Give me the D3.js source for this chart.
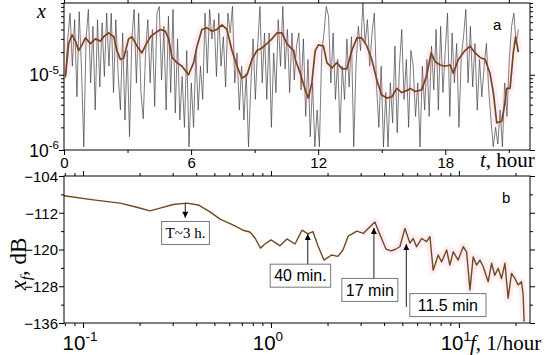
<!DOCTYPE html>
<html>
<head>
<meta charset="utf-8">
<script src="https://cdn.jsdelivr.net/npm/d3@7"></script>
<style>
body { margin: 0; background: #fff; }
svg { display: block; }
</style>
</head>
<body>
<div id="chart"></div>
<script>
// ---- panel a: x(t), raw samples (units of 1e-6), regular step in hours
const rawStart = 0.07;
const rawStep = 0.108;
const rawX = [
  9.0,30,66,13,54,5.1,69,12,1.1,30,74,7.8,44,3.4,54,6.9,49,9.5,66,13,66,5.8,54,10.5,3.4,36,2.5,21,1.5,30,
  74,7.8,66,5.8,2.6,19.5,54,7.8,40,3.8,66,81,8.5,44,3.4,60,5.8,74,3.1,30,2.5,9.5,2.0,21,1.1,
  7.8,2.0,21,3.4,13,4.7,66,10.5,74,30,54,9.5,66,13,32,6.9,66,36,81,7.8,19.5,3.4,13,2.5,10.5,1.1,6.9,30,4.7,24,
  81,7.8,36,4.7,36,2.0,19.5,5.8,54,13,81,12,40,5.8,36,8.5,24,
  36,6.3,30,2.8,16,1.5,7.8,1.1,3.4,1.1,19.5,36,81,60,7.8,36,4.7,16,1.7,13,4.7,30,6.9,32,1.1,13,44,21,91,26,
  54,13,36,66,6.9,2.0,13,1.1,5.8,1.1,7.8,2.3,24,1.7,13,40,4.7,16,2.0,21,
  13,2.8,7.8,1.1,13,3.4,16,2.8,24,6.3,40,3.4,44,5.8,21,66,2.8,36,7.8,26,2.0,17,32,74,7.8,44,6.9,26,3.4,16,
  5.1,13,26,6.3,2.5,1.1,2.0,1.2,3.4,1.1,7.8,2.8,16,44,66,26,40
];

// smoothed curve (hours, units of 1e-6)
const smoothT = [
  0.07,0.22,0.38,0.54,0.69,0.85,1.01,1.25,1.48,1.72,1.87,2.11,2.35,2.50,2.66,2.82,3.05,3.21,3.45,3.68,
  3.89,4.08,4.31,4.55,4.78,4.94,5.10,5.33,5.57,5.88,6.12,6.28,6.51,6.75,6.99,7.22,7.46,7.69,7.93,8.17,
  8.40,8.64,8.87,9.11,9.34,9.58,9.82,10.05,10.29,10.52,10.84,10.92,11.15,11.39,11.54,11.70,11.86,12.01,12.25,12.41,
  12.65,12.88,13.12,13.35,13.59,13.83,14.06,14.30,14.53,14.77,15.00,15.24,15.48,15.71,15.95,16.26,16.34,16.58,16.89,17.13,
  17.33,17.52,17.75,17.99,18.23,18.38,18.62,18.93,19.17,19.41,19.64,19.88,20.11,20.27,20.43,20.66,20.82,20.90,21.06,21.21,
  21.32,21.45
];
const smoothX = [
  9.5,26,34,28,21,25,31,26,30,28,32,36,32,21,16,16.7,30,32,24,19.5,
  26,32,36,40,38,30,17,14.5,13,10,14.5,24,40,42,38,40,46,40,21,13,
  9.0,10,16,21,22.7,26,30,36,36,26,21,16,10.5,6.3,4.9,7.8,21,25,24,14.5,
  12.3,14.5,12,12,21,31,31,24,16,8.5,5.4,4.9,5.1,6.6,5.8,6.3,6.6,6.0,6.3,10,
  19.5,15,13.5,13,13.5,10.5,16,21,24,19.5,17,16,10.5,5.8,2.3,2.4,4.2,6.6,6.6,19.5,
  32,20
];
const xUnit = 1e-6;

// ---- panel b: spectrum, log10 of frequency (1/hour) and level (dB)
const specLogF = [
  -1.101,-0.945,-0.803,-0.714,-0.644,-0.590,-0.520,-0.448,-0.387,-0.324,-0.271,-0.200,-0.149,-0.112,-0.085,-0.056,-0.032,0,
  0.027,0.048,0.085,0.128,0.165,0.197,0.223,0.250,0.282,0.323,0.356,0.383,0.411,0.457,0.491,0.516,0.553,0.580,
  0.612,0.638,0.660,0.686,0.713,0.739,0.757,0.775,0.802,0.828,0.846,0.863,0.890,0.908,0.935,0.952,0.970,0.996,
  1.023,1.041,1.059,1.076,1.094,1.112,1.129,1.156,1.174,1.191,1.209,1.227,1.245,1.262,1.280,1.298,1.315,1.333,1.342,1.347
];
const specDb = [
  -108.3,-109.2,-109.9,-110.8,-111.6,-111.0,-110.2,-109.9,-110.3,-111.8,-113.4,-114.7,-115.8,-116.2,-117.5,-119.7,-118.8,-117.9,
  -118.6,-119.2,-117.7,-118.8,-115.8,-116.6,-116.1,-119.2,-122.3,-121.2,-121.5,-120.1,-117.1,-116.0,-116.5,-115.5,-114.0,-116.8,
  -119.9,-120.3,-120.0,-119.4,-115.4,-118.6,-117.6,-119.4,-117.6,-118.3,-117.2,-124.5,-121.2,-122.7,-120.1,-123.4,-120.5,-122.3,
  -119.4,-120.5,-128.8,-121.6,-123.4,-122.3,-123.7,-127.0,-123.0,-125.6,-124.1,-126.3,-123.0,-130.6,-125.2,-126.3,-127.7,-127.0,-129.9,-135.7
];

// ticks
const timeTicks = [0, 6, 12, 18];
const timeMinor = [3, 9, 15, 21];
const xDecades = [-6, -5];
const dbTicks = [-104, -112, -120, -128, -136];
const dbMinor = [-108, -116, -124, -132];
const fDecades = [-2, -1, 0, 1];

// period annotations: label, arrow frequency, arrow from/to (dB), box centre (f, dB)
const notes = [
  { text: 'T~3 h.', serif: true, f: 0.35, from: -109.9, to: -113.1, bf: 0.351, bdb: -116.4 },
  { text: '40 min.', f: 1.57, from: -123.2, to: -116.6, bf: 1.435, bdb: -125.7 },
  { text: '17 min', f: 3.53, from: -126.4, to: -115.3, bf: 3.36, bdb: -128.8 },
  { text: '11.5 min', f: 5.25, from: -132.5, to: -118.8, bf: 8.74, bdb: -132.1 }
];

const sans = '"Liberation Sans", Arial, sans-serif';
const serif = '"Liberation Serif", "Times New Roman", serif';
const W = 550, H = 355;
const left = 64, right = 530;
const topA = 3, bottomA = 150;
const topB = 176, bottomB = 323;
const brown = '#6e4a1e';

const svg = d3.select('#chart').append('svg').attr('width', W).attr('height', H);
const defs = svg.append('defs');
defs.append('clipPath').attr('id', 'clipA').append('rect')
  .attr('x', left).attr('y', topA).attr('width', right - left).attr('height', bottomA - topA);
defs.append('clipPath').attr('id', 'clipB').append('rect')
  .attr('x', left).attr('y', topB).attr('width', right - left).attr('height', bottomB - topB);
defs.append('marker').attr('id', 'head').attr('viewBox', '0 0 10 10')
  .attr('refX', 10).attr('refY', 5).attr('markerWidth', 7).attr('markerHeight', 6)
  .attr('markerUnits', 'userSpaceOnUse').attr('orient', 'auto')
  .append('path').attr('d', 'M0,0L10,5L0,10Z').attr('fill', '#000');

const xTime = d3.scaleLinear().domain([0, 22]).range([left, right]);
const yX = d3.scaleLog().domain([1e-6, 9e-5]).range([bottomA, topA]);
const xFreq = d3.scaleLog().domain([0.0792, 23.9]).range([left, right]);
const yDb = d3.scaleLinear().domain([-136, -104]).range([bottomB, topB]);

const logMinor = (decades, domain) => decades
  .flatMap(d => d3.range(2, 10).map(m => m * Math.pow(10, d)))
  .filter(v => v >= domain[0] && v <= domain[1]);

function ticks(axisGen, scale, values, size, transform) {
  const g = svg.append('g').attr('transform', transform)
    .call(axisGen(scale).tickValues(values).tickSize(size).tickFormat(''));
  g.select('.domain').remove();
  g.selectAll('line').attr('stroke', '#000');
  return g;
}

function power(x, y, exp, fs, anchor) {
  const t = svg.append('text').attr('x', x).attr('y', y).attr('text-anchor', anchor)
    .attr('font-family', sans).attr('font-size', fs).attr('fill', '#000');
  t.append('tspan').text('10');
  t.append('tspan').attr('dy', -fs * 0.42).attr('font-size', fs * 0.66).text(exp);
}

// ===== panel a =====
const gA = svg.append('g').attr('clip-path', 'url(#clipA)');
gA.append('path')
  .datum(rawX.map((v, i) => [rawStart + i * rawStep, v * xUnit]))
  .attr('fill', 'none').attr('stroke', '#3c3c3c').attr('stroke-width', 0.8)
  .attr('stroke-opacity', 0.85)
  .attr('d', d3.line().x(d => xTime(d[0])).y(d => yX(d[1])));

const smooth = smoothT.map((t, i) => [t, smoothX[i] * xUnit]);
const lineA = d3.line().x(d => xTime(d[0])).y(d => yX(d[1]));
gA.append('path').datum(smooth).attr('fill', 'none').attr('stroke', '#ff8fb8')
  .attr('stroke-width', 9).attr('stroke-opacity', 0.16).attr('stroke-linejoin', 'round')
  .attr('d', lineA);
gA.append('path').datum(smooth).attr('fill', 'none').attr('stroke', brown)
  .attr('stroke-width', 1.7).attr('stroke-linejoin', 'round').attr('d', lineA);

svg.append('rect').attr('x', left).attr('y', topA).attr('width', right - left)
  .attr('height', bottomA - topA).attr('fill', 'none').attr('stroke', '#000');

const axT = svg.append('g').attr('transform', `translate(0,${bottomA})`)
  .call(d3.axisBottom(xTime).tickValues(timeTicks).tickSize(5).tickPadding(2.5));
axT.select('.domain').remove();
axT.selectAll('line').attr('stroke', '#000');
axT.selectAll('text').attr('font-size', 15).attr('font-family', sans).attr('fill', '#000');
ticks(d3.axisBottom, xTime, timeMinor, 3, `translate(0,${bottomA})`);
ticks(d3.axisTop, xTime, timeTicks, 5, `translate(0,${topA})`);
ticks(d3.axisTop, xTime, timeMinor, 3, `translate(0,${topA})`);

const xMajor = xDecades.map(d => Math.pow(10, d));
const xMinorV = logMinor(xDecades, yX.domain());
ticks(d3.axisLeft, yX, xMajor, 5, `translate(${left},0)`);
ticks(d3.axisLeft, yX, xMinorV, 3, `translate(${left},0)`);
ticks(d3.axisRight, yX, xMajor, 5, `translate(${right},0)`);
ticks(d3.axisRight, yX, xMinorV, 3, `translate(${right},0)`);
xDecades.forEach(d => power(59, yX(Math.pow(10, d)) + 6.5, String(d), 17.5, 'end'));

svg.append('text').attr('x', 37).attr('y', 18).attr('font-family', serif)
  .attr('font-style', 'italic').attr('font-size', 20).text('x');
const tLab = svg.append('text').attr('x', 480).attr('y', 167).attr('font-family', serif)
  .attr('font-size', 21);
tLab.append('tspan').attr('font-style', 'italic').text('t');
tLab.append('tspan').text(', hour');
svg.append('text').attr('x', 493).attr('y', 30).attr('font-family', sans)
  .attr('font-size', 15).text('a');

// ===== panel b =====
const gB = svg.append('g').attr('clip-path', 'url(#clipB)');
const spec = specLogF.map((lf, i) => [Math.pow(10, lf), specDb[i]]);
const lineB = d3.line().x(d => xFreq(d[0])).y(d => yDb(d[1]));
gB.append('path').datum(spec.filter(d => d[0] > 3)).attr('fill', 'none').attr('stroke', '#ff8fb8')
  .attr('stroke-width', 8).attr('stroke-opacity', 0.16).attr('stroke-linejoin', 'round')
  .attr('d', lineB);
gB.append('path').datum(spec).attr('fill', 'none').attr('stroke', brown)
  .attr('stroke-width', 1.4).attr('stroke-linejoin', 'round').attr('d', lineB);

svg.append('rect').attr('x', left).attr('y', topB).attr('width', right - left)
  .attr('height', bottomB - topB).attr('fill', 'none').attr('stroke', '#000');

const axD = svg.append('g').attr('transform', `translate(${left},0)`)
  .call(d3.axisLeft(yDb).tickValues(dbTicks).tickSize(5).tickPadding(1));
axD.select('.domain').remove();
axD.selectAll('line').attr('stroke', '#000');
axD.selectAll('text').attr('font-size', 15).attr('font-family', sans).attr('fill', '#000')
  .attr('dy', '0.36em');
ticks(d3.axisLeft, yDb, dbMinor, 3, `translate(${left},0)`);
ticks(d3.axisRight, yDb, dbTicks, 5, `translate(${right},0)`);
ticks(d3.axisRight, yDb, dbMinor, 3, `translate(${right},0)`);

const fMajor = fDecades.map(d => Math.pow(10, d)).filter(v => v >= xFreq.domain()[0] && v <= xFreq.domain()[1]);
const fMinorV = logMinor(fDecades, xFreq.domain());
ticks(d3.axisBottom, xFreq, fMajor, 5, `translate(0,${bottomB})`);
ticks(d3.axisBottom, xFreq, fMinorV, 3, `translate(0,${bottomB})`);
ticks(d3.axisTop, xFreq, fMajor, 5, `translate(0,${topB})`);
ticks(d3.axisTop, xFreq, fMinorV, 3, `translate(0,${topB})`);
fMajor.forEach(v => power(xFreq(v) - 3, 350, String(Math.round(Math.log10(v))), 20.5, 'middle'));

const fLab = svg.append('text').attr('x', 470).attr('y', 350).attr('font-family', serif)
  .attr('font-size', 21);
fLab.append('tspan').attr('font-style', 'italic').text('f');
fLab.append('tspan').text(', 1/hour');

const yLab = svg.append('text').attr('transform', 'translate(26,264) rotate(-90)')
  .attr('text-anchor', 'middle').attr('font-family', serif).attr('font-size', 23);
yLab.append('tspan').attr('font-style', 'italic').text('x');
yLab.append('tspan').attr('font-style', 'italic').attr('font-size', 15).attr('dy', 5).text('f');
yLab.append('tspan').attr('dy', -5).text(', dB');

svg.append('text').attr('x', 502).attr('y', 203).attr('font-family', sans)
  .attr('font-size', 15).text('b');

// annotations
notes.forEach(n => {
  const x = xFreq(n.f);
  svg.append('line').attr('x1', x).attr('x2', x)
    .attr('y1', yDb(n.from)).attr('y2', yDb(n.to))
    .attr('stroke', '#000').attr('stroke-width', 0.9).attr('marker-end', 'url(#head)');
  const bx = xFreq(n.bf), by = yDb(n.bdb);
  const g = svg.append('g');
  const rect = g.append('rect');
  const t = g.append('text').attr('x', bx).attr('y', by).attr('text-anchor', 'middle')
    .attr('dy', '0.35em')
    .attr('font-family', n.serif ? serif : sans).attr('font-size', n.serif ? 15 : 16)
    .text(n.text);
  const bb = t.node().getBBox();
  const padX = n.text === '11.5 min' ? 8 : 4;
  rect.attr('x', bb.x - padX).attr('y', by - 11.5).attr('width', bb.width + 2 * padX)
    .attr('height', 23).attr('fill', '#fff').attr('stroke', '#777').attr('stroke-width', 1);
});
</script>
</body>
</html>
